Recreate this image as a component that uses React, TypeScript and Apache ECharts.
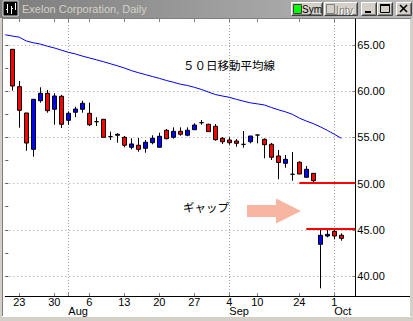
import React, { useEffect, useRef } from 'react';
import * as echarts from 'echarts';

// ---- data ----
const dates = [
  '2001-07-19', '2001-07-20', '2001-07-23', '2001-07-24', '2001-07-25', '2001-07-26', '2001-07-27', '2001-07-30', '2001-07-31',
  '2001-08-01', '2001-08-02', '2001-08-03', '2001-08-06', '2001-08-07', '2001-08-08', '2001-08-09', '2001-08-10',
  '2001-08-13', '2001-08-14', '2001-08-15', '2001-08-16', '2001-08-17', '2001-08-20', '2001-08-21', '2001-08-22',
  '2001-08-23', '2001-08-24', '2001-08-27', '2001-08-28', '2001-08-29', '2001-08-30', '2001-08-31',
  '2001-09-04', '2001-09-05', '2001-09-06', '2001-09-07', '2001-09-10', '2001-09-17', '2001-09-18', '2001-09-19',
  '2001-09-20', '2001-09-21', '2001-09-24', '2001-09-25', '2001-09-26', '2001-09-27', '2001-09-28',
  '2001-10-01', '2001-10-02', '2001-10-03', '2001-10-04',
];

// candles start at 2001-07-20 (dates[1])
const candleOpen = [
  64.53, 60.49, 57.64, 53.71, 58.97, 59.77, 58.04, 59.45, 56.85, 57.72, 58.04, 57.61, 56.70, 56.96, 55.08, 55.23,
  55.01, 53.93, 54.15, 53.82, 54.43, 53.93, 55.77, 55.01, 55.66, 55.23, 55.83, 56.59, 56.42, 56.20, 54.90, 54.72,
  54.61, 54.25, 54.53, 55.26, 54.79, 54.26, 52.99, 52.20, 51.01, 52.31, 50.68, 51.11, 43.43, 44.33, 44.84, 44.41,
];
const candleClose = [
  60.56, 57.93, 54.39, 59.12, 59.77, 57.89, 59.48, 56.42, 57.61, 58.07, 58.69, 56.37, 56.70, 55.01, 55.08, 55.34,
  54.15, 54.29, 53.71, 54.47, 54.90, 55.12, 54.86, 55.66, 55.34, 55.77, 56.34, 56.59, 55.62, 54.75, 54.53, 54.43,
  54.36, 54.25, 55.15, 55.26, 54.21, 52.85, 52.28, 52.63, 51.01, 51.04, 51.55, 50.31, 44.41, 44.51, 44.33, 44.08,
];
const candleLow = [
  60.05, 56.05, 53.56, 52.91, 58.76, 57.67, 56.37, 56.02, 56.37, 57.18, 57.67, 56.23, 56.23, 55.01, 54.72, 54.43,
  53.93, 53.71, 53.45, 53.34, 54.25, 53.93, 54.79, 54.86, 55.18, 55.12, 55.83, 56.37, 55.62, 54.64, 54.29, 54.21,
  53.99, 53.89, 54.36, 54.36, 52.74, 52.55, 50.47, 51.72, 50.31, 51.04, 50.68, 50.10, 38.67, 44.19, 43.97, 43.82,
];
const candleHigh = [
  64.53, 61.10, 57.64, 59.12, 60.42, 60.13, 59.77, 59.60, 57.82, 58.32, 58.97, 58.76, 57.18, 56.96, 55.62, 55.44,
  55.15, 54.90, 54.94, 54.72, 55.23, 55.51, 55.91, 56.09, 56.09, 56.09, 56.53, 56.88, 56.48, 56.45, 55.04, 55.01,
  54.83, 55.69, 55.15, 55.26, 54.90, 54.40, 53.64, 53.10, 53.42, 52.41, 51.90, 51.11, 45.12, 45.05, 45.12, 44.62,
];

// 50-day moving average, starting at dates[0]
const ma50 = [
  66.10, 65.97, 65.84, 65.43, 65.24, 65.10, 64.87, 64.68, 64.44, 64.21, 64.03, 63.80, 63.60, 63.40, 63.19, 62.97,
  62.75, 62.51, 62.23, 62.00, 61.80, 61.59, 61.39, 61.16, 60.97, 60.76, 60.62, 60.42, 60.19, 59.91, 59.64, 59.48,
  59.34, 59.12, 58.92, 58.74, 58.63, 58.51, 58.24, 57.99, 57.77, 57.50, 57.09, 56.77, 56.49, 56.15, 55.76, 55.34,
  54.90,
];

const weekTickDates = [
  '2001-07-23', '2001-07-30', '2001-08-06', '2001-08-13', '2001-08-20', '2001-08-27',
  '2001-09-04', '2001-09-10', '2001-09-24', '2001-10-01',
];
const monthStartDates = ['2001-08-01', '2001-09-04', '2001-10-01'];
const monthNames = ['Aug', 'Sep', 'Oct'];

const yTickValues = [40, 45, 50, 55, 60, 65];
const yMinorTickValues = [40, 42.5, 45, 47.5, 50, 52.5, 55, 57.5, 60, 62.5, 65];
const yMin = 37.84;
const yMax = 67.81;

// gap annotation levels
const gapUpperLevel = 50.05;
const gapUpperFrom = '2001-09-24';
const gapLowerLevel = 45.15;
const gapLowerFrom = '2001-09-25';

const FONT = '"Liberation Sans", Arial, sans-serif';
const CJK = '"Noto Sans CJK JP", "Noto Sans CJK SC", sans-serif';

function bevelButton(x: number, y: number, w: number, h: number) {
  return [
    { type: 'rect', z: 20, shape: { x, y, width: w, height: h }, style: { fill: '#d4d0c8' } },
    {
      type: 'polyline', z: 21,
      shape: { points: [[x + 0.5, y + h - 0.5], [x + 0.5, y + 0.5], [x + w - 0.5, y + 0.5]] },
      style: { stroke: '#ffffff', lineWidth: 1, fill: 'none' },
    },
    {
      type: 'polyline', z: 21,
      shape: { points: [[x + 0.5, y + h - 0.5], [x + w - 0.5, y + h - 0.5], [x + w - 0.5, y + 0.5]] },
      style: { stroke: '#404040', lineWidth: 1, fill: 'none' },
    },
    {
      type: 'polyline', z: 21,
      shape: { points: [[x + 1.5, y + h - 1.5], [x + w - 1.5, y + h - 1.5], [x + w - 1.5, y + 1.5]] },
      style: { stroke: '#808080', lineWidth: 1, fill: 'none' },
    },
  ];
}

export default function App() {
  const ref = useRef<HTMLDivElement>(null);

  useEffect(() => {
    if (!ref.current) return;
    const chart = echarts.init(ref.current, null, { renderer: 'svg' });

    const weekSet = new Set(weekTickDates);
    const monthSet = new Set(monthStartDates);
    const tickSet = new Set([...weekTickDates, ...monthStartDates]);

    const candleData = dates.map((_, i) => {
      const k = i - 1;
      if (k < 0 || k >= candleOpen.length) return ['-', '-', '-', '-'];
      return [candleOpen[k], candleClose[k], candleLow[k], candleHigh[k]];
    });
    const maData = dates.map((_, i) => (i < ma50.length ? ma50[i] : null));
    const lastDate = dates[dates.length - 1];

    const graphicEls: any[] = [
      // client area
      { type: 'rect', z: -1, shape: { x: 2, y: 18, width: 409, height: 298 }, style: { fill: '#808080' } },
      { type: 'rect', z: -1, shape: { x: 3, y: 19, width: 408, height: 297 }, style: { fill: '#ffffff' } },
      { type: 'rect', z: -1, shape: { x: 410, y: 19, width: 1, height: 297 }, style: { fill: '#d4d0c8' } },
      { type: 'rect', z: -1, shape: { x: 2, y: 316, width: 409, height: 1 }, style: { fill: '#ffffff' } },
      // separator under plot, continuing under price labels
      { type: 'line', z: 5, shape: { x1: 355, y1: 296.5, x2: 410, y2: 296.5 }, style: { stroke: '#000', lineWidth: 1 } },
      // title bar
      {
        type: 'rect', z: 10, shape: { x: 0, y: 0, width: 413, height: 18 },
        style: {
          fill: new echarts.graphic.LinearGradient(0, 0, 1, 0, [
            { offset: 0, color: '#7c7c7c' },
            { offset: 1, color: '#bcbcbc' },
          ]),
        },
      },
      // icon
      { type: 'rect', z: 11, shape: { x: 3, y: 1, width: 15, height: 15 }, style: { fill: '#000', stroke: '#e0e0e0', lineWidth: 1 } },
      { type: 'line', z: 12, shape: { x1: 7.5, y1: 4, x2: 7.5, y2: 13 }, style: { stroke: '#fff', lineWidth: 1 } },
      { type: 'line', z: 12, shape: { x1: 6, y1: 9.5, x2: 7.5, y2: 9.5 }, style: { stroke: '#fff', lineWidth: 1 } },
      { type: 'line', z: 12, shape: { x1: 11.5, y1: 6, x2: 11.5, y2: 14 }, style: { stroke: '#fff', lineWidth: 1 } },
      { type: 'line', z: 12, shape: { x1: 11.5, y1: 8.5, x2: 13, y2: 8.5 }, style: { stroke: '#fff', lineWidth: 1 } },
      { type: 'line', z: 12, shape: { x1: 15.5, y1: 3, x2: 15.5, y2: 10 }, style: { stroke: '#fff', lineWidth: 1 } },
      {
        type: 'text', z: 12, x: 22, y: 9,
        style: { text: 'Exelon Corporation, Daily', fill: '#d4d0c8', fontSize: 11, fontFamily: FONT, verticalAlign: 'middle' },
      },
      ...bevelButton(291, 2, 32, 14),
      { type: 'rect', z: 22, shape: { x: 293.5, y: 4.5, width: 8, height: 9 }, style: { fill: '#00ff00', stroke: '#404040', lineWidth: 1 } },
      { type: 'text', z: 22, x: 302, y: 9.5, style: { text: 'Sym', fill: '#000', fontSize: 10, fontFamily: FONT, verticalAlign: 'middle' } },
      ...bevelButton(324, 2, 34, 14),
      { type: 'rect', z: 22, shape: { x: 326.5, y: 4.5, width: 8, height: 9 }, style: { fill: '#d4d0c8', stroke: '#808080', lineWidth: 1 } },
      { type: 'text', z: 22, x: 337, y: 10.5, style: { text: 'Intv', fill: '#ffffff', fontSize: 10.5, fontFamily: FONT, verticalAlign: 'middle' } },
      { type: 'text', z: 23, x: 336, y: 9.5, style: { text: 'Intv', fill: '#808080', fontSize: 10.5, fontFamily: FONT, verticalAlign: 'middle' } },
      ...bevelButton(361, 2, 16, 14),
      { type: 'rect', z: 22, shape: { x: 365, y: 11, width: 6, height: 2 }, style: { fill: '#000' } },
      ...bevelButton(377, 2, 16, 14),
      { type: 'rect', z: 22, shape: { x: 380.5, y: 4.5, width: 9, height: 8 }, style: { fill: 'none', stroke: '#000', lineWidth: 1 } },
      { type: 'rect', z: 22, shape: { x: 380, y: 4, width: 10, height: 2 }, style: { fill: '#000' } },
      ...bevelButton(396, 2, 16, 14),
      { type: 'line', z: 22, shape: { x1: 400, y1: 5, x2: 407, y2: 12 }, style: { stroke: '#000', lineWidth: 1.6 } },
      { type: 'line', z: 22, shape: { x1: 407, y1: 5, x2: 400, y2: 12 }, style: { stroke: '#000', lineWidth: 1.6 } },
      // annotations
      {
        type: 'text', z: 30, x: 183, y: 65,
        style: { text: '５０日移動平均線', fill: '#000', fontSize: 11.5, fontFamily: CJK, verticalAlign: 'middle' },
      },
      {
        type: 'text', z: 30, x: 183, y: 207,
        style: { text: 'ギャップ', fill: '#000', fontSize: 11.5, fontFamily: CJK, verticalAlign: 'middle' },
      },
      {
        type: 'polygon', z: 30,
        shape: { points: [[247, 205], [276, 205], [276, 198.5], [301, 211], [276, 223.5], [276, 217], [247, 217]] },
        style: { fill: '#f8b6a2' },
      },
    ];

    const option: any = {
      animation: false,
      backgroundColor: '#d4d0c8',
      grid: { left: 5.3, top: 19, width: 350, height: 277, containLabel: false, outerBoundsMode: 'none' },
      xAxis: [
        {
          type: 'category', data: dates, boundaryGap: false, position: 'bottom',
          axisLine: { show: true, lineStyle: { color: '#000', width: 1 } },
          axisTick: { show: true, inside: true, length: 3, interval: (_i: number, v: string) => tickSet.has(v), lineStyle: { color: '#808080' } },
          axisLabel: {
            interval: (_i: number, v: string) => weekSet.has(v),
            formatter: (v: string) => String(parseInt(v.slice(8), 10)),
            color: '#000', fontSize: 11, fontFamily: FONT, margin: 2, lineHeight: 8,
          },
          splitLine: { show: true, interval: (_i: number, v: string) => monthSet.has(v), lineStyle: { color: '#a0a0a0', type: [1, 2] } },
        },
        {
          type: 'category', data: dates, boundaryGap: false, position: 'bottom',
          axisLine: { show: false }, axisTick: { show: false }, splitLine: { show: false },
          axisLabel: {
            interval: (_i: number, v: string) => monthSet.has(v),
            formatter: (v: string) => monthNames[monthStartDates.indexOf(v)],
            align: 'left', color: '#000', fontSize: 11, fontFamily: FONT, margin: 10.5, lineHeight: 8,
          },
        },
        {
          type: 'category', data: dates, boundaryGap: false, position: 'top',
          axisLine: { show: false }, splitLine: { show: false }, axisLabel: { show: false },
          axisTick: { show: true, inside: true, length: 3, interval: (_i: number, v: string) => tickSet.has(v), lineStyle: { color: '#808080' } },
        },
      ],
      yAxis: [
        {
          type: 'value', position: 'right', min: yMin, max: yMax,
          axisLine: { show: true, lineStyle: { color: '#000', width: 1 } },
          axisTick: { show: true, inside: true, length: 3, customValues: yTickValues, lineStyle: { color: '#808080' } },
          axisLabel: {
            customValues: yTickValues, formatter: (v: number) => v.toFixed(2),
            color: '#000', fontSize: 11, fontFamily: FONT, margin: 2,
          },
          splitLine: { show: true, lineStyle: { color: '#a0a0a0', type: [1, 3] } },
        },
        {
          type: 'value', position: 'left', min: yMin, max: yMax,
          axisLine: { show: false }, axisLabel: { show: false }, splitLine: { show: false },
          axisTick: { show: true, inside: true, length: 3, customValues: yMinorTickValues, lineStyle: { color: '#606060' } },
        },
      ],
      series: [
        {
          type: 'candlestick',
          xAxisIndex: 0, yAxisIndex: 0,
          data: candleData,
          barWidth: 5,
          itemStyle: {
            color: '#0000ff', color0: '#ff0000',
            borderColor: '#000', borderColor0: '#000', borderColorDoji: '#000', borderWidth: 1,
          },
          markLine: {
            silent: true, symbol: ['none', 'none'], label: { show: false },
            lineStyle: { color: '#ff0000', width: 2, type: 'solid' },
            data: [
              [{ coord: [gapUpperFrom, gapUpperLevel] }, { coord: [lastDate, gapUpperLevel] }],
              [{ coord: [gapLowerFrom, gapLowerLevel] }, { coord: [lastDate, gapLowerLevel] }],
            ],
          },
        },
        {
          type: 'line', name: '50日移動平均',
          xAxisIndex: 0, yAxisIndex: 0,
          data: maData, symbol: 'none', showSymbol: false,
          lineStyle: { color: '#0000ff', width: 1 },
        },
      ],
      graphic: { elements: graphicEls },
    };

    chart.setOption(option);
    return () => chart.dispose();
  }, []);

  return (
    <div
      ref={ref}
      style={{ position: 'fixed', left: 0, top: 0, width: 413, height: 321 }}
    />
  );
}
